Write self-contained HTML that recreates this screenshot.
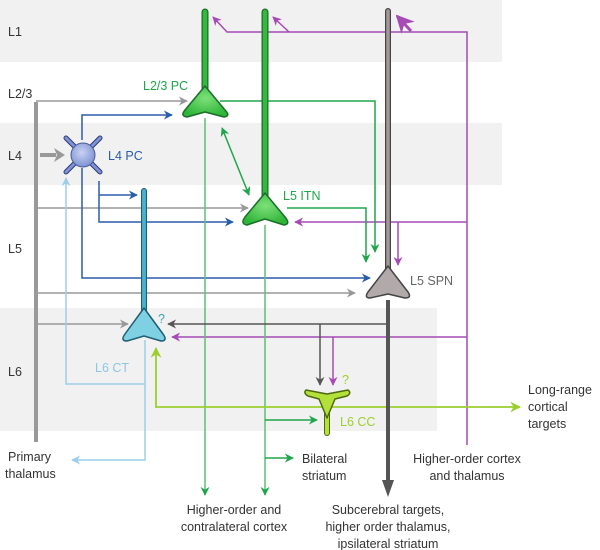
<!DOCTYPE html>
<html><head><meta charset="utf-8"><style>
html,body{margin:0;padding:0;background:#fff}
svg{display:block}
text{font-family:"Liberation Sans",sans-serif;font-size:12.5px}
</style></head><body>
<svg width="600" height="550" viewBox="0 0 600 550" xmlns="http://www.w3.org/2000/svg">
<defs>
<marker id="ag" viewBox="0 0 10 10" refX="9" refY="5" markerWidth="6" markerHeight="6" orient="auto-start-reverse"><path d="M0,0 L10,5 L0,10 L3,5z" fill="#1fa64a"/></marker>
<marker id="ab" viewBox="0 0 10 10" refX="9" refY="5" markerWidth="6" markerHeight="6" orient="auto"><path d="M0,0 L10,5 L0,10 L3,5z" fill="#2a5caa"/></marker>
<marker id="ay" viewBox="0 0 10 10" refX="9" refY="5" markerWidth="6" markerHeight="6" orient="auto"><path d="M0,0 L10,5 L0,10 L3,5z" fill="#999"/></marker>
<marker id="ad" viewBox="0 0 10 10" refX="9" refY="5" markerWidth="6" markerHeight="6" orient="auto"><path d="M0,0 L10,5 L0,10 L3,5z" fill="#555"/></marker>
<marker id="am" viewBox="0 0 10 10" refX="9" refY="5" markerWidth="6" markerHeight="6" orient="auto"><path d="M0,0 L10,5 L0,10 L3,5z" fill="#a64bb5"/></marker>
<marker id="al" viewBox="0 0 10 10" refX="9" refY="5" markerWidth="6" markerHeight="6" orient="auto"><path d="M0,0 L10,5 L0,10 L3,5z" fill="#9dcdea"/></marker>
<marker id="av" viewBox="0 0 10 10" refX="9" refY="5" markerWidth="6" markerHeight="6" orient="auto"><path d="M0,0 L10,5 L0,10 L3,5z" fill="#9ccf2e"/></marker>
<radialGradient id="gg" cx="0.5" cy="0.4" r="0.6"><stop offset="0" stop-color="#7ee07a"/><stop offset="1" stop-color="#2fb53a"/></radialGradient>
<radialGradient id="gb" cx="0.45" cy="0.4" r="0.6"><stop offset="0" stop-color="#c8d2f2"/><stop offset="1" stop-color="#7f93d4"/></radialGradient>
</defs>
<rect x="0" y="0" width="502" height="62" fill="#f1f1f1"/>
<rect x="0" y="123" width="502" height="62" fill="#f1f1f1"/>
<rect x="0" y="308" width="437" height="123" fill="#f1f1f1"/>
<g fill="#333"><text x="8" y="36">L1</text><text x="8" y="98">L2/3</text><text x="8" y="160">L4</text><text x="8" y="253">L5</text><text x="8" y="376">L6</text></g>

<line x1="36" y1="102" x2="36" y2="442" stroke="#999" stroke-width="4"/>
<g stroke="#999" stroke-width="1.5" fill="none">
<path d="M36 101 H187" marker-end="url(#ay)"/>
<path d="M38 208 H248" marker-end="url(#ay)"/>
<path d="M38 293 H355" marker-end="url(#ay)"/>
<path d="M38 324 H128" marker-end="url(#ay)"/>
</g>
<line x1="40" y1="155" x2="56" y2="155" stroke="#999" stroke-width="4"/>
<polygon points="54,148 65,155 54,162 57,155" fill="#999"/>

<g stroke="#9dcdea" stroke-width="1.5" fill="none">
<path d="M145 340 V460 H72" marker-end="url(#al)"/>
<path d="M145 384 H66 V178" marker-end="url(#al)"/>
</g>

<g stroke="#2a5caa" stroke-width="1.5" fill="none">
<path d="M82 140 V115 H172" marker-end="url(#ab)"/>
<path d="M82 168 V278 H370" marker-end="url(#ab)"/>
<path d="M99 181 V222 H233" marker-end="url(#ab)"/>
<path d="M99 195 H137" marker-end="url(#ab)"/>
</g>

<g stroke="#a64bb5" stroke-width="1.5" fill="none">
<path d="M467 445 V32 H227 L213 17" marker-end="url(#am)"/>
<path d="M289 32 L273 17" marker-end="url(#am)"/>
<path d="M467 222 H295" marker-end="url(#am)"/>
<path d="M398 222 V265" marker-end="url(#am)"/>
<path d="M467 337 H172" marker-end="url(#am)"/>
<path d="M333 337 V385" marker-end="url(#am)"/>
</g>
<path d="M411 31 L397 16" stroke="#a64bb5" stroke-width="3" marker-end="url(#am)"/>

<g stroke="#1fa64a" stroke-width="1.5" fill="none">
<path d="M220 101 H375 V252" marker-end="url(#ag)"/>
<path d="M287 208 H366 V262" marker-end="url(#ag)"/>
<path d="M205 118 V495" marker-end="url(#ag)" stroke="#5cbf78"/>
<path d="M265 225 V495" marker-end="url(#ag)" stroke="#5cbf78"/>
<path d="M265 420 H317" marker-end="url(#ag)"/>
<path d="M265 458 H293" marker-end="url(#ag)"/>
<path d="M222 128 L249 195" marker-end="url(#ag)" marker-start="url(#ag)"/>
</g>

<g stroke="#555" stroke-width="1.5" fill="none">
<path d="M388 324 H168" marker-end="url(#ad)"/>
<path d="M320 324 V385" marker-end="url(#ad)"/>
</g>
<g stroke="#9ccf2e" stroke-width="1.8" fill="none">
<path d="M326 407 H156 V348" marker-end="url(#av)"/>
<path d="M326 407 H520" marker-end="url(#av)"/>
</g>

<line x1="388" y1="300" x2="388" y2="482" stroke="#555" stroke-width="4"/>
<polygon points="382,480 394,480 388,497" fill="#555"/>
<line x1="388" y1="11" x2="388" y2="270" stroke="#4a4344" stroke-width="6" stroke-linecap="round"/>
<line x1="388" y1="11" x2="388" y2="270" stroke="#a29a9a" stroke-width="3.5" stroke-linecap="round"/>
<path d="M388 266 L408 292 Q412 298 405 298 L388 294 L370 298 Q364 298 368 292 Z" fill="#b2aaaa" stroke="#444" stroke-width="1.5" stroke-linejoin="round"/>

<g stroke-linecap="round">
<line x1="205" y1="12" x2="205" y2="95" stroke="#1a6e28" stroke-width="7"/>
<line x1="205" y1="12" x2="205" y2="95" stroke="#35b83c" stroke-width="4.5"/>
<line x1="265" y1="12" x2="265" y2="200" stroke="#1a6e28" stroke-width="7"/>
<line x1="265" y1="12" x2="265" y2="200" stroke="#35b83c" stroke-width="4.5"/>
<line x1="144" y1="191" x2="144" y2="315" stroke="#1d5f74" stroke-width="6"/>
<line x1="144" y1="191" x2="144" y2="315" stroke="#4ab2cc" stroke-width="3.8"/>
</g>
<path d="M205 86 L225 110 Q231 116 224 117 L205 112 L187 117 Q180 116 185 110 Z" fill="url(#gg)" stroke="#1a6e28" stroke-width="1.5" stroke-linejoin="round"/>
<path d="M265 193 L285 217 Q291 224 284 225 L265 219 L247 225 Q240 224 245 217 Z" fill="url(#gg)" stroke="#1a6e28" stroke-width="1.5" stroke-linejoin="round"/>
<path d="M144 308 L163 334 Q168 341 161 341 L144 336 L127 341 Q120 341 125 334 Z" fill="#7fd0e2" stroke="#1d5f74" stroke-width="1.5" stroke-linejoin="round"/>
<line x1="327" y1="400" x2="327" y2="433" stroke="#4e6a10" stroke-width="6" stroke-linecap="round"/>
<line x1="327" y1="400" x2="327" y2="433" stroke="#b4e03a" stroke-width="4" stroke-linecap="round"/>
<path d="M306 390 Q303 393 308 396 L319 399 L327 418 L335 399 L347 396 Q352 393 348 390 L327 394 Z" fill="#b4e03a" stroke="#4e6a10" stroke-width="1.5" stroke-linejoin="round"/>
<g stroke="#2e3a7a" stroke-width="5" stroke-linecap="round"><line x1="66" y1="138" x2="100" y2="172"/><line x1="100" y1="138" x2="66" y2="172"/></g>
<g stroke="#7f93d4" stroke-width="3" stroke-linecap="round"><line x1="66" y1="138" x2="100" y2="172"/><line x1="100" y1="138" x2="66" y2="172"/></g>
<circle cx="83" cy="155" r="12" fill="url(#gb)" stroke="#4b5a9a" stroke-width="1"/>

<text x="143" y="90" fill="#1fa64a">L2/3 PC</text>
<text x="108" y="160" fill="#2a5caa">L4 PC</text>
<text x="283" y="200" fill="#1fa64a">L5 ITN</text>
<text x="410" y="285" fill="#666">L5 SPN</text>
<text x="95" y="372" fill="#8ec6e6">L6 CT</text>
<text x="340" y="426" fill="#9ccf2e">L6 CC</text>
<text x="158" y="323" fill="#3aa8b8" font-size="11">?</text>
<text x="342" y="384" fill="#9ccf2e" font-size="11">?</text>
<g fill="#333">
<text x="8" y="461">Primary</text><text x="5" y="478">thalamus</text>
<text x="302" y="463">Bilateral</text><text x="302" y="480">striatum</text>
<text x="467" y="463" text-anchor="middle">Higher-order cortex</text><text x="467" y="480" text-anchor="middle">and thalamus</text>
<text x="528" y="394">Long-range</text><text x="528" y="411">cortical</text><text x="528" y="428">targets</text>
<text x="234" y="514" text-anchor="middle">Higher-order and</text><text x="234" y="531" text-anchor="middle">contralateral cortex</text>
<text x="388" y="514" text-anchor="middle">Subcerebral targets,</text><text x="388" y="531" text-anchor="middle">higher order thalamus,</text><text x="388" y="548" text-anchor="middle">ipsilateral striatum</text>
</g>
</svg>
</body></html>
